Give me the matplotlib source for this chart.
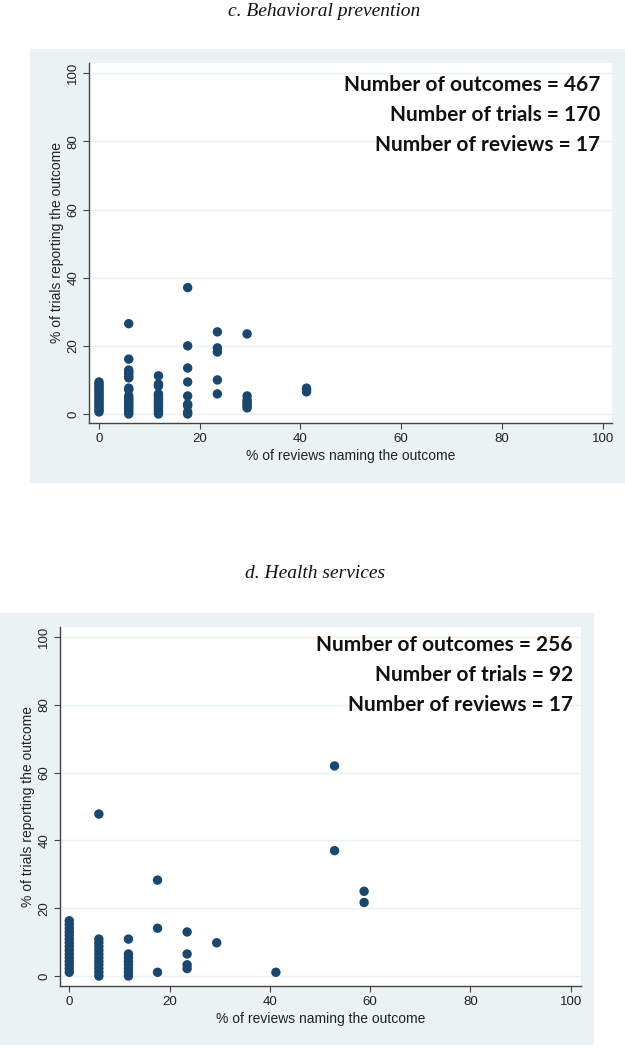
import matplotlib
matplotlib.use("Agg")
import matplotlib.pyplot as plt
from matplotlib.patches import Rectangle

# ---------------- data ----------------
# Panel c: Behavioral prevention (x = % of reviews naming, y = % of trials reporting)
c_x_cols = [0, 5.9, 11.8, 17.6, 23.5, 29.4, 41.2]
c_y_0 = [0.6, 1.2, 1.8, 2.4, 2.9, 3.5, 4.1, 4.7, 5.3, 5.9, 6.5, 7.1, 7.6, 8.2, 8.8, 9.4]
c_y_5 = [0, 0.6, 1.2, 1.8, 2.4, 2.9, 3.5, 4.1, 4.7, 5.3, 7.1, 7.6, 10.6, 11.2, 11.8, 12.4, 12.9, 16.1, 26.5]
c_y_11 = [0, 0.6, 1.2, 1.8, 2.4, 2.9, 3.5, 4.1, 4.7, 5.3, 5.9, 8.2, 8.8, 11.2]
c_y_17 = [0, 0.6, 2.4, 2.9, 5.3, 9.4, 13.5, 20.0, 37.1]
c_y_23 = [5.9, 10.0, 18.2, 19.4, 24.1]
c_y_29 = [1.8, 2.4, 2.9, 3.5, 4.1, 5.3, 23.5]
c_y_41 = [6.5, 7.1, 7.6]
c_y_cols = [c_y_0, c_y_5, c_y_11, c_y_17, c_y_23, c_y_29, c_y_41]
c_title = "c. Behavioral prevention"
c_stats = ["Number of outcomes = 467", "Number of trials = 170", "Number of reviews = 17"]

# Panel d: Health services
d_x_cols = [0, 5.9, 11.8, 17.6, 23.5, 29.4, 41.2, 52.9, 58.8]
d_y_0 = [1.1, 2.2, 3.3, 4.3, 5.4, 6.5, 7.6, 8.7, 9.8, 10.9, 12.0, 13.0, 14.1, 15.2, 16.3]
d_y_5 = [0, 1.1, 2.2, 3.3, 4.3, 5.4, 6.5, 7.6, 8.7, 9.8, 10.9, 47.8]
d_y_11 = [0, 1.1, 2.2, 3.3, 4.3, 5.4, 6.5, 10.9]
d_y_17 = [1.1, 14.1, 28.3]
d_y_23 = [2.2, 3.3, 6.5, 13.0]
d_y_29 = [9.8]
d_y_41 = [1.1]
d_y_52 = [37.0, 62.0]
d_y_58 = [21.7, 25.0]
d_y_cols = [d_y_0, d_y_5, d_y_11, d_y_17, d_y_23, d_y_29, d_y_41, d_y_52, d_y_58]
d_title = "d. Health services"
d_stats = ["Number of outcomes = 256", "Number of trials = 92", "Number of reviews = 17"]

ticks = [0, 20, 40, 60, 80, 100]
xlabel = "% of reviews naming the outcome"
ylabel = "% of trials reporting the outcome"

# ---------------- style ----------------
W, H = 625, 1050
BG = "#eaf2f3"
NAVY = "#1a476f"
fig = plt.figure(figsize=(W / 100, H / 100), dpi=100)
fig.patch.set_facecolor("white")

bg_ax = fig.add_axes([0, 0, 1, 1])
bg_ax.set_xlim(0, W)
bg_ax.set_ylim(H, 0)
bg_ax.axis("off")
bg_ax.set_zorder(-5)


def px_box(x0, y0, x1, y1):
    return [x0 / W, 1 - y1 / H, (x1 - x0) / W, (y1 - y0) / H]


def panel(bg_box, ax_box, xlim, ylim, xs, ys_cols, title, title_y, title_x, stats, stats_x, stats_y0):
    bx0, by0, bx1, by1 = bg_box
    bg_ax.add_patch(Rectangle((bx0, by0), bx1 - bx0, by1 - by0, facecolor=BG, edgecolor="none"))
    ax = fig.add_axes(px_box(*ax_box))
    ax.set_zorder(2)
    ax.set_facecolor("white")
    for xv, col in zip(xs, ys_cols):
        ax.scatter([xv] * len(col), col, s=46, color=NAVY, edgecolors="none", zorder=3, clip_on=False)
    ax.set_xlim(*xlim)
    ax.set_ylim(*ylim)
    ax.set_xticks(ticks)
    ax.set_yticks(ticks)
    for t in ticks:
        ax.axhline(t, color=BG, lw=1.0, zorder=1)
    for s in ["top", "right"]:
        ax.spines[s].set_visible(False)
    for s in ["left", "bottom"]:
        ax.spines[s].set_color("#444444")
        ax.spines[s].set_linewidth(1.0)
    ax.tick_params(axis="both", length=4, width=0.8, color="#444444",
                   labelsize=9.5, labelcolor="#222222", pad=3)
    for lab in ax.get_yticklabels():
        lab.set_rotation(90)
        lab.set_va("center")
    for lab in ax.get_xticklabels() + ax.get_yticklabels():
        lab.set_family("Liberation Sans")
    ax.set_xlabel(xlabel, fontsize=10, family="Liberation Sans", color="#222222", labelpad=3)
    ax.set_ylabel(ylabel, fontsize=10, family="Liberation Sans", color="#222222", labelpad=2)
    fig.text(title_x / W, 1 - title_y / H, title, ha="center", va="center",
             fontsize=14, style="italic", family="Liberation Serif", color="#111111")
    for i, s in enumerate(stats):
        ax.text((stats_x - ax_box[0]) / (ax_box[2] - ax_box[0]),
                1 - (stats_y0 + 30 * i - ax_box[1]) / (ax_box[3] - ax_box[1]),
                s, transform=ax.transAxes, ha="right", va="center",
                fontsize=15, weight="bold", family="Lato", color="#111111", zorder=5)
    return ax


# panel c
panel((30, 49, 625, 483), (89, 63, 612, 423), (-1.99, 101.85), (-2.64, 103.0),
      c_x_cols, c_y_cols, c_title, 11, 324, c_stats, 600, 85)
# panel d
panel((0, 613, 594, 1045), (60, 627, 581, 986), (-1.85, 102.05), (-2.95, 103.0),
      d_x_cols, d_y_cols, d_title, 573, 315, d_stats, 573, 645)

fig.savefig("out.png", dpi=100, facecolor="white")
